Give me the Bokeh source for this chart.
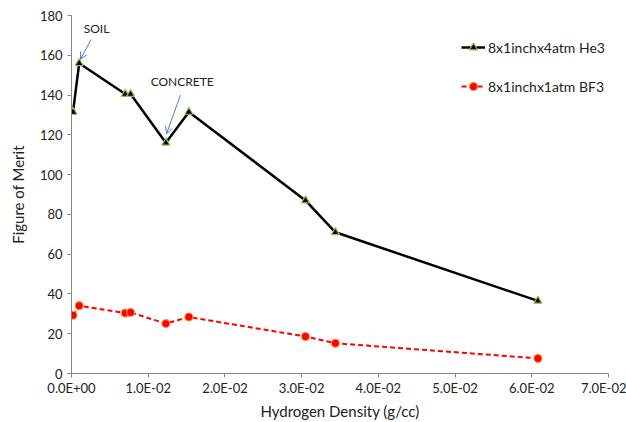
from bokeh.plotting import figure
from bokeh.models import (Range1d, FixedTicker, CustomJSTickFormatter, Legend, LegendItem,
                          Arrow, OpenHead, Label)
from bokeh.embed import file_html
from bokeh.resources import INLINE

density = [0.0002, 0.0010, 0.0070, 0.0077, 0.0123, 0.0153, 0.0305, 0.0344, 0.0608]
he3 = [131.5, 156.0, 140.5, 140.5, 116.0, 131.5, 87.0, 71.0, 36.5]
bf3 = [29.3, 34.1, 30.4, 30.7, 25.1, 28.4, 18.6, 15.2, 7.6]
x_ticks = [0.0, 0.01, 0.02, 0.03, 0.04, 0.05, 0.06, 0.07]
y_ticks = [0, 20, 40, 60, 80, 100, 120, 140, 160, 180]
series_names = ["8x1inchx4atm He3", "8x1inchx1atm BF3"]

FONT = "Lato"
AX = "#868686"

p = figure(width=626, height=422, output_backend="svg", toolbar_location=None,
           x_range=Range1d(0, 0.07), y_range=Range1d(0, 180),
           min_border_left=71, min_border_right=18, min_border_top=15, min_border_bottom=44)
p.outline_line_color = None
p.xgrid.visible = False
p.ygrid.visible = False

for ax in (p.xaxis[0], p.yaxis[0]):
    ax.axis_line_color = AX
    ax.major_tick_line_color = AX
    ax.minor_tick_line_color = None
    ax.major_tick_in = 0
    ax.major_tick_out = 4
    ax.major_label_text_font = FONT
    ax.major_label_text_font_size = "13px"
    ax.major_label_text_color = "#222222"
    ax.axis_label_text_font = FONT
    ax.axis_label_text_font_size = "15px"
    ax.axis_label_text_font_style = "normal"
    ax.axis_label_text_color = "#222222"

p.xaxis.ticker = FixedTicker(ticks=x_ticks)
p.yaxis.ticker = FixedTicker(ticks=y_ticks)
p.xaxis.formatter = CustomJSTickFormatter(code="""
var s = tick.toExponential(1); var parts = s.split('e');
var e = parseInt(parts[1]); var sign = e < 0 ? '-' : '+'; var a = Math.abs(e);
return parts[0] + 'E' + sign + (a < 10 ? '0' : '') + a;
""")
p.xaxis.axis_label = "Hydrogen Density (g/cc)"
p.yaxis.axis_label = "Figure of Merit"
p.xaxis.major_label_standoff = 2
p.yaxis.major_label_standoff = 5
p.xaxis.axis_label_standoff = 3
p.yaxis.axis_label_standoff = 10

l1 = p.line(density, he3, line_color="black", line_width=2.5)
m1 = p.scatter(density, he3, marker="triangle", size=8, fill_color="black",
               line_color="#9BBB59", line_width=1.2)
l2 = p.line(density, bf3, line_color="#FF0000", line_width=2, line_dash="5 3")
m2 = p.scatter(density, bf3, marker="circle", size=8, fill_color="#FF0000",
               line_color="#F79646", line_width=1.2)

legend = Legend(items=[LegendItem(label=series_names[0], renderers=[l1, m1]),
                       LegendItem(label=series_names[1], renderers=[l2, m2])],
                location=(390, 277), border_line_color=None, background_fill_alpha=0,
                label_text_font=FONT, label_text_font_size="14px", label_text_color="#222222",
                glyph_width=24, spacing=19, label_standoff=3)
p.add_layout(legend)

blue = "#4F81BD"
p.add_layout(Label(x=0.00326, y=173.5, text="SOIL", text_font=FONT, text_font_size="12px",
                   text_align="center", text_baseline="middle", text_color="#222222"))
p.add_layout(Arrow(x_start=0.00257, y_start=168, x_end=0.00117, y_end=158,
                   line_color=blue, line_width=1,
                   end=OpenHead(size=7, line_color=blue, line_width=1)))
p.add_layout(Label(x=0.01443, y=146.6, text="CONCRETE", text_font=FONT, text_font_size="12px",
                   text_align="center", text_baseline="middle", text_color="#222222"))
p.add_layout(Arrow(x_start=0.0142, y_start=140, x_end=0.01239, y_end=120.5,
                   line_color=blue, line_width=1,
                   end=OpenHead(size=7, line_color=blue, line_width=1)))

open("out.html", "w").write(file_html(p, INLINE))
